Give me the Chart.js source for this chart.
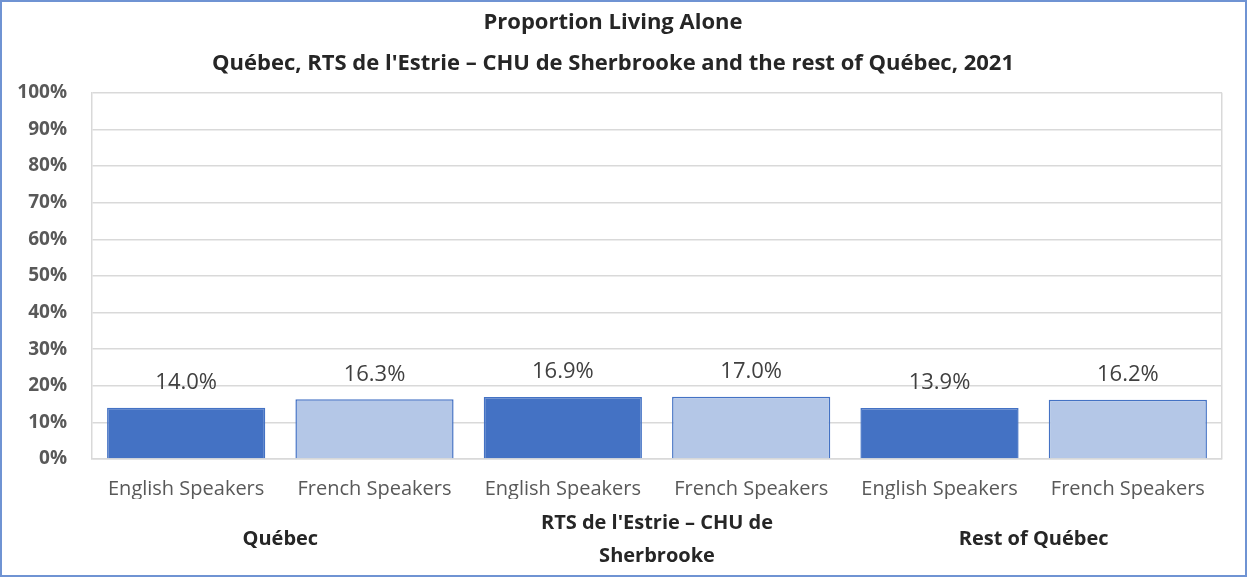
<!DOCTYPE html>
<html lang="en">
<head>
    <meta charset="UTF-8">
    <title>Proportion Living Alone</title>
    <style>
        body {
            margin: 0;
            padding: 0;
            background: #fff;
        }

        #frame {
            position: absolute;
            left: 0;
            top: 0;
            width: 1247px;
            height: 577px;
            box-sizing: border-box;
            border: 2px solid #6f93d3;
            background: #fff;
        }

        #chartBox {
            position: relative;
            width: 1243px;
            height: 573px;
        }
    </style>
    <script src="https://cdn.jsdelivr.net/npm/chart.js"></script>
</head>
<body>

<div id="frame">
    <div id="chartBox">
        <canvas id="myChart"></canvas>
    </div>
</div>

<script>
    // data
    const speakers = ['English Speakers', 'French Speakers', 'English Speakers', 'French Speakers', 'English Speakers', 'French Speakers'];
    const regions = ['Québec', ["RTS de l'Estrie – CHU de", 'Sherbrooke'], 'Rest of Québec'];
    const shares = [14.0, 16.3, 16.9, 17.0, 13.9, 16.2];
    const yTicks = [0, 10, 20, 30, 40, 50, 60, 70, 80, 90, 100];

    const darkBlue = '#4472C4';
    const lightBlue = '#B4C7E7';
    const gridGray = '#D9D9D9';
    const fontName = '"Open Sans", sans-serif';

    // English = dark, French = light
    const barColors = speakers.map(s => s.startsWith('English') ? darkBlue : lightBlue);

    // writes the value above each bar
    const valueLabels = {
        id: 'valueLabels',
        afterDatasetsDraw(chart) {
            const ctx = chart.ctx;
            const meta = chart.getDatasetMeta(0);
            ctx.save();
            ctx.font = '22px ' + fontName;
            ctx.fillStyle = '#404040';
            ctx.textAlign = 'center';
            ctx.textBaseline = 'middle';
            meta.data.forEach((bar, i) => {
                ctx.fillText(shares[i].toFixed(1) + '%', bar.x, bar.y - 25);
            });
            ctx.restore();
        }
    };

    const ctx = document.getElementById('myChart').getContext('2d');
    const myChart = new Chart(ctx, {
        type: 'bar',
        data: {
            labels: speakers,
            datasets: [{
                data: shares,
                backgroundColor: barColors,
                borderColor: darkBlue,
                borderWidth: 1.5,
                barPercentage: 0.84,
                categoryPercentage: 1.0,
                xAxisID: 'x',
            }]
        },
        options: {
            responsive: true,
            maintainAspectRatio: false,
            animation: false,
            layout: {
                padding: { left: 2, right: 23, top: 0, bottom: 0 }
            },
            plugins: {
                legend: { display: false },
                tooltip: { enabled: false },
                title: {
                    display: true,
                    text: ['Proportion Living Alone', "Québec, RTS de l'Estrie – CHU de Sherbrooke and the rest of Québec, 2021"],
                    color: '#262626',
                    font: { family: fontName, size: 22, weight: 'bold', lineHeight: 1.86 },
                    padding: { top: 0, bottom: 9 }
                }
            },
            scales: {
                y: {
                    min: 0,
                    max: 100,
                    afterBuildTicks: (scale) => {
                        scale.ticks = yTicks.map(v => ({ value: v }));
                    },
                    afterFit: (scale) => {
                        scale.width = 88;
                    },
                    grid: {
                        color: gridGray,
                        lineWidth: 1.5,
                        drawTicks: false
                    },
                    border: { display: true, color: gridGray, width: 1.5 },
                    ticks: {
                        padding: 25,
                        color: '#595959',
                        font: { family: fontName, size: 19, weight: 'bold' },
                        callback: (v) => v + '%'
                    }
                },
                x: {
                    afterFit: (scale) => {
                        // chart.js counts the tick padding twice for the height
                        scale.height = 40;
                    },
                    grid: {
                        drawTicks: false,
                        lineWidth: 1.5,
                        color: (c) => c.index === undefined ? gridGray : 'transparent'
                    },
                    border: { display: true, color: gridGray, width: 1.5 },
                    ticks: {
                        padding: 18,
                        color: '#595959',
                        font: { family: fontName, size: 20 }
                    }
                },
                x2: {
                    type: 'category',
                    position: 'bottom',
                    labels: regions,
                    offset: true,
                    afterFit: (scale) => {
                        scale.height = 76;
                    },
                    grid: { display: false, drawTicks: false },
                    border: { display: false },
                    ticks: {
                        padding: 24,
                        crossAlign: 'center',
                        color: '#262626',
                        font: { family: fontName, size: 20, weight: 'bold', lineHeight: 1.66 }
                    }
                }
            }
        },
        plugins: [valueLabels]
    });
</script>
</body>
</html>
